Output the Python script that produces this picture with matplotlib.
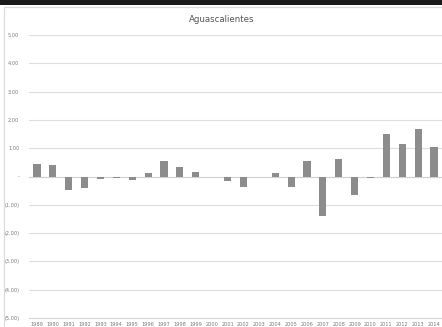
import matplotlib
matplotlib.use("Agg")
import matplotlib.pyplot as plt
from matplotlib.patches import Rectangle
from matplotlib.ticker import FixedLocator, FuncFormatter

years = [str(y) for y in range(1989, 2015)]
values = [0.44, 0.40, -0.48, -0.40, -0.10, -0.05, -0.12, 0.11, 0.54, 0.33,
          0.16, -0.03, -0.17, -0.37, -0.01, 0.13, -0.37, 0.56, -1.40, 0.61,
          -0.66, -0.05, 1.50, 1.16, 1.69, 1.04]
y_ticks = [-5, -4, -3, -2, -1, 0, 1, 2, 3, 4, 5]
title = "Aguascalientes"

W, H = 442, 327
fig = plt.figure(figsize=(W / 100, H / 100), dpi=100)
fig.patch.set_facecolor("white")

# dark band along the top and the light chart frame
fig.add_artist(Rectangle((0, 1 - 5 / H), 1, 5 / H, transform=fig.transFigure,
                         facecolor="#1a1a1a", edgecolor="none", zorder=0))
fig.add_artist(Rectangle((4 / W, -0.1), 1.2, 1 - 7 / H + 0.1, transform=fig.transFigure,
                         facecolor="none", edgecolor="#dcdcdc", linewidth=0.9, zorder=1))

left, right = 29 / W, 442 / W
top, bottom = 1 - 35 / H, 1 - 318 / H
ax = fig.add_axes([left, bottom, right - left, top - bottom])
ax.set_facecolor("none")

x = list(range(len(years)))
ax.bar(x, values, width=0.45, color="#8c8c8c", zorder=3)

ax.set_ylim(-5, 5)
ax.set_xlim(-0.5, len(years) - 0.5)
ax.yaxis.set_major_locator(FixedLocator(y_ticks))


def fmt(v, pos):
    if abs(v) < 1e-9:
        return "-"
    if v < 0:
        return "({:.2f})".format(-v)
    return "{:.2f}".format(v)


ax.yaxis.set_major_formatter(FuncFormatter(fmt))
ax.grid(axis="y", color="#dedede", linewidth=0.8, zorder=0)
ax.axhline(0, color="#d0d0d0", linewidth=0.8, zorder=2)
ax.set_xticks(x)
ax.set_xticklabels(years)
for s in ax.spines.values():
    s.set_visible(False)
ax.spines["bottom"].set_visible(True)
ax.spines["bottom"].set_color("#d6d6d6")
ax.spines["bottom"].set_position(("data", -5))
ax.tick_params(axis="both", length=0, labelsize=3.6, colors="#7a7a7a")
ax.tick_params(axis="y", pad=7)
ax.tick_params(axis="x", pad=3)

fig.text(222 / W, 1 - 20 / H, title, ha="center", va="center",
         fontsize=6.2, color="#555555")

fig.savefig("out.png", dpi=100)
